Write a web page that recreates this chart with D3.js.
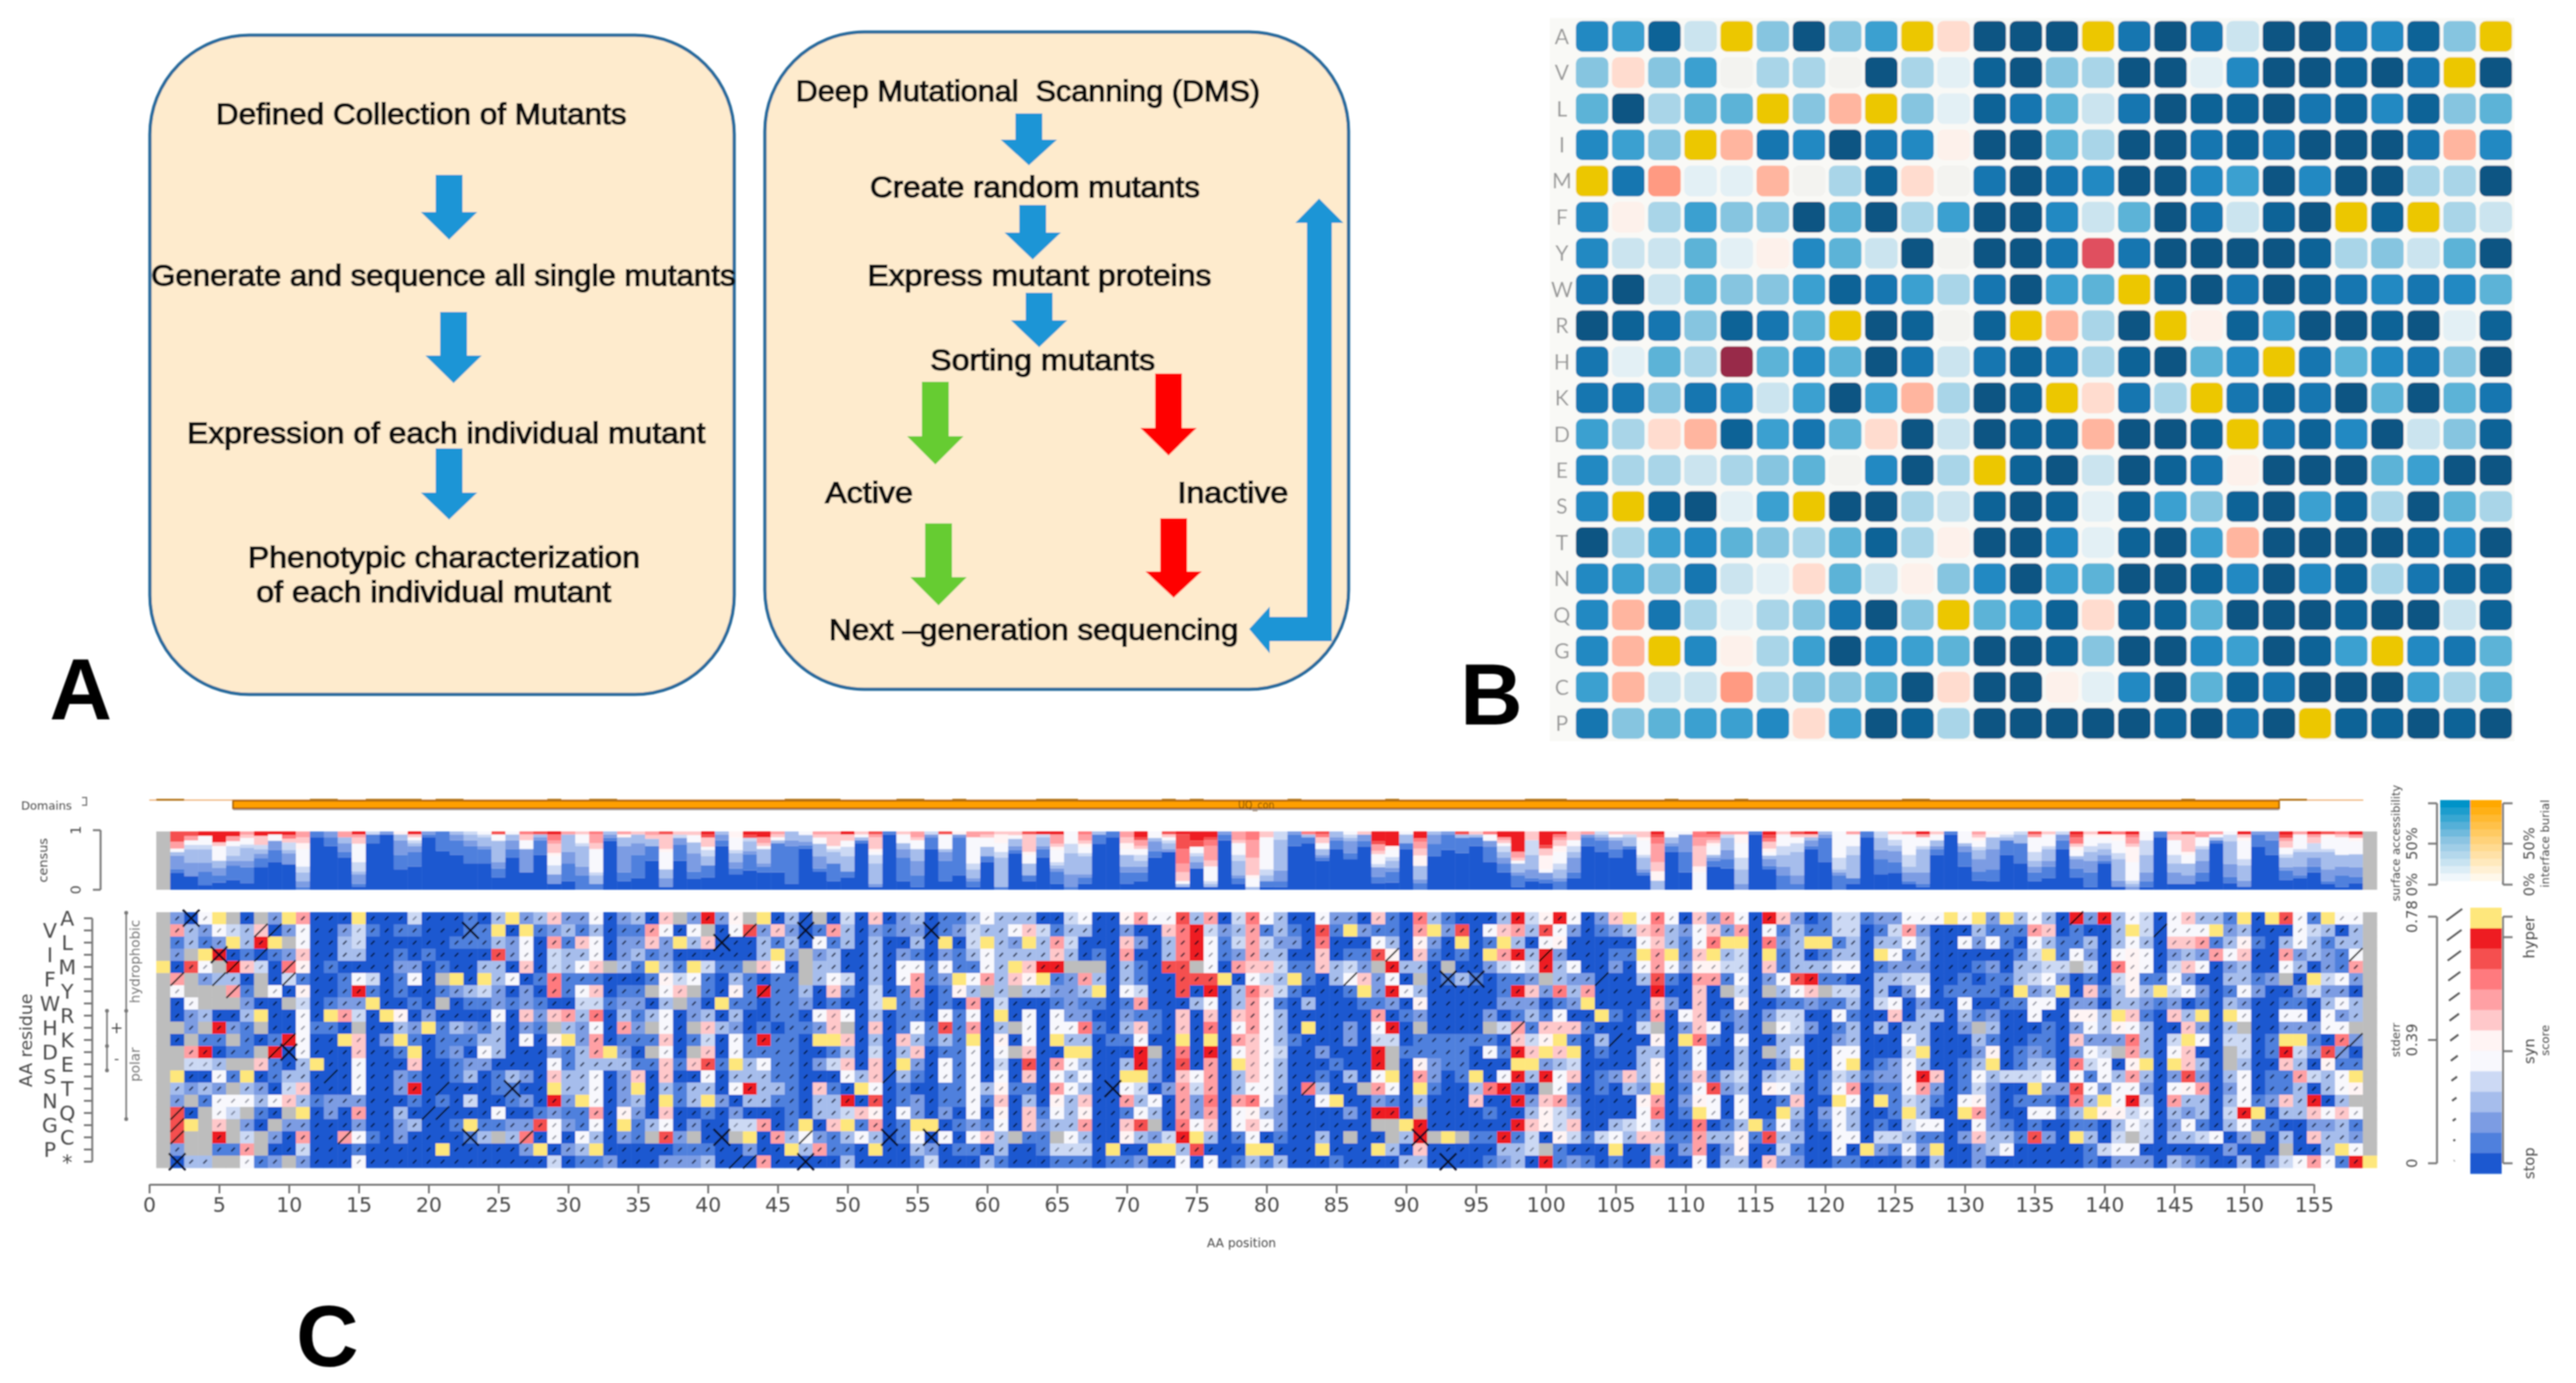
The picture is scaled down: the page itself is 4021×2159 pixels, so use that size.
<!DOCTYPE html>
<html><head><meta charset="utf-8"><title>Deep mutational scanning</title>
<script src="https://cdnjs.cloudflare.com/ajax/libs/d3/7.8.5/d3.min.js"></script>
<style>html,body{margin:0;background:#fff}svg{display:block}text{font-family:"DejaVu Sans",sans-serif}</style>
</head><body><svg id="fig" width="4021" height="2159"></svg>
<script>
// ---------- Panel A content ----------
const leftSteps = ["Defined Collection of Mutants","Generate and sequence all single mutants","Expression of each individual mutant","Phenotypic characterization","of each individual mutant"];
const rightSteps = ["Deep Mutational  Scanning (DMS)","Create random mutants","Express mutant proteins","Sorting mutants","Active","Inactive","Next \u2013generation sequencing"];
const panelLetters = ["A","B","C"];

// ---------- Panel B content ----------
const bResidues = ["A","V","L","I","M","F","Y","W","R","H","K","D","E","S","T","N","Q","G","C","P"];
const bRows = [
"6 5 8 1 y 3 9 3 5 y p 9 9 9 y 7 9 7 1 9 9 7 6 8 3 y",
"3 p 3 5 e 2 2 e 9 2 0 8 9 3 2 9 9 0 6 9 9 8 9 7 y 9",
"4 9 2 4 4 y 3 q y 3 0 8 7 4 1 7 9 8 8 9 7 8 6 8 3 4",
"6 5 3 y q 7 6 9 7 6 f 9 9 4 2 9 9 7 8 7 9 9 9 7 q 6",
"y 7 r 0 0 q e 2 8 p e 7 9 7 6 9 9 6 5 9 6 9 9 2 2 9",
"6 f 2 5 3 3 9 4 9 2 5 9 9 6 1 4 9 7 1 8 9 y 8 y 2 1",
"6 1 1 4 0 f 6 4 1 9 e 9 9 7 c 7 9 9 9 9 8 2 3 1 4 9",
"7 9 1 4 3 3 5 8 7 5 2 7 9 5 4 y 8 9 7 9 8 7 6 7 6 4",
"9 8 7 3 8 7 4 y 9 8 e 8 y q 2 9 y f 8 5 9 9 8 9 0 8",
"7 0 4 2 m 4 6 4 9 7 1 7 8 7 2 8 9 4 6 y 7 4 6 7 3 9",
"7 7 3 7 6 1 5 9 5 q 2 9 8 y p 7 2 y 7 8 7 9 4 9 4 7",
"5 2 p q 8 5 7 4 p 9 1 9 8 8 q 9 9 8 y 7 8 6 9 1 3 8",
"6 2 2 1 2 3 4 e 6 9 2 y 8 9 1 9 8 7 f 9 9 9 4 5 9 9",
"6 y 8 9 0 5 y 9 9 2 1 8 9 8 0 8 5 3 8 9 5 8 2 9 4 2",
"9 2 5 6 4 3 2 4 8 2 f 9 9 6 0 8 9 5 q 9 9 9 9 8 6 9",
"6 5 3 7 1 0 p 4 1 f 3 6 9 5 4 9 9 8 6 9 6 8 2 7 8 8",
"6 q 7 2 0 2 3 7 9 3 y 4 5 8 p 8 8 4 9 9 9 8 9 9 1 8",
"6 q y 6 f 2 5 9 6 5 4 9 9 8 3 9 9 6 5 9 8 5 y 6 7 4",
"5 q 1 1 r 2 3 3 4 9 p 9 9 f 0 6 9 4 8 7 9 9 9 5 2 4",
"7 3 4 5 5 6 p 5 9 8 2 9 9 9 9 9 8 9 7 9 y 8 8 9 8 9"];
const bLevels = ["0","1","2","3","4","5","6","7","8","9","e","f","p","q","r","y","c","m"];
const bColors = ["#e3f0f5","#cbe4ef","#a9d5e8","#86c5e0","#5cb3d7","#3aa0d0","#2089c2","#1476b0","#0e6397","#0f5583","#f3f3f0","#fdf1eb","#ffdccf","#ffb59f","#ff9a82","#ecc700","#e0505f","#982a4a"];

// ---------- Panel C content ----------
const residues = ["A","V","L","I","M","F","Y","W","R","H","K","D","E","S","T","N","Q","G","C","P","*"];
// one string per residue; columns are AA positions 1..159.
const heatRows = [
"g 2 0 5 y g 0 g 2 y 8 0 0 0 y 0 0 0 4 0 0 0 1 0 3 y 2 3 7 2 2 5 0 2 3  0 7 g 2 b 2 6 g y 0 3 0 g 0 4 0 7 0 2 3 0 1 1 3 5 3 3 3 0 0 4 5 0 0 6 8 5 5 a 3 8 0 4 9 5 3  0 0 5 2 2 0 7 1 0 9 3 1 0 0 0 3 b 4 6 b 5 0 2 7 y 5 9 5 0 7 2 8 5 0 b 7 2 0 1 4 4 1 2 2 5 5  5 y 5 y 2 y 3 5 3 0 b 2 b 3 5 4 0 5 7 3 3 1 y 0 y a 5 1 y 5 5 g",
"g 8 3 2 5 4 3 7 0 2 5 0 0 2 4 1 0 1 1 0 0 0 1 1 y 0 y 1 2 3 1 3 0 1 1  8 5 0 5 g 0 5 a 2 7 2 0 1 8 3 0 2 1 2 2 0 1 2 4 3 3 5 7 4 1 3 3 0 0 2 0 0 7 9 b 4 2 3 8 1 3  1 0 a 1 y 2 1 1 0 8 y 2 a 0 5 7 8 3 a 5 2 0 1 2 3 7 8 3 2 5 7 2 8 0 5 1 3 1 1 4 4 0 1 4 8 2  0 0 0 3 1 1 1 8 7 0 1 0 0 3 y 4 0 5 5 5 y 2 3 0 0 0 5 4 3 0 3 g",
"g 1 3 1 2 y 3 b y g 5 0 0 3 4 0 0 0 0 0 0 1 1 1 3 2 5 0 8 1 7 5 0 2 2  7 2 y 3 7 0 0 0 3 1 3 0 5 1 3 0 3 0 0 3 0 y 0 4 y 3 2 y 3 8 4 0 0 0 7 2 0 3 9 b 5 1 4 8 4 2  2 0 9 0 0 0 5 3 0 6 2 0 y 0 1 y 3 0 5 6 0 0 0 0 0 5 7 3 1 5 9 y y 0 9 2 3 y y 1 3 0 3 3 5 3  0 0 5 2 5 1 0 5 3 1 1 3 0 3 5 3 0 7 7 8 1 3 6 1 0 3 5 3 1 3 3 g",
"g 2 g y b 0 1 0 1 2 7 0 0 3 3 0 0 1 0 1 0 0 0 0 a 2 5 0 4 3 3 5 0 2 3  1 2 0 0 0 0 0 0 3 y 2 g 2 3 0 0 3 0 2 1 0 2 1 3 5 3 3 3 3 7 3 0 1 0 8 0 0 3 9 b 5 1 2 8 3 3  0 0 7 0 1 1 a 6 0 7 1 0 1 0 y 8 b 3 b 2 0 0 0 1 1 y 8 y 1 7 y 3 4 0 y 1 3 0 1 3 3 0 y 5 1 3  0 0 0 0 0 0 1 4 y 1 5 2 0 5 6 5 0 2 3 2 8 5 7 0 0 8 2 3 2 1 5 g",
"y 0 a 5 g b 7 4 0 9 6 0 1 0 0 0 0 2 2 0 1 0 0 3 3 0 7 0 4 3 5 7 g 3 1  y 3 1 y 4 1 1 g 7 5 0 g 3 3 0 0 3 0 5 5 1 5 1 1 5 3 y 7 b b g g g 0 3 1 0 a a g 5 0 8 7 7 4  1 1 7 3 4 2 g b 3 3 0 g 0 0 2 4 5 4 b 3 5 0 0 2 0 5 8 5 2 6 6 4 4 0 7 1 3 3 3 5 5 0 1 2 2 2  0 0 0 1 2 0 3 3 4 4 g 4 0 9 6 5 0 4 7 5 0 2 3 0 0 5 3 0 2 1 8 g",
"g 8 g 2 3 3 0 g 0 4 1 0 0 1 5 4 0 1 5 0 g y 0 y 3 5 0 1 9 1 1 1 0 0 0  1 6 4 5 1 0 3 1 0 1 1 g 3 5 4 0 3 0 5 8 1 2 y 5 8 3 7 6 y 1 2 8 3 0 3 1 0 0 a a a y 0 5 4 3  y 1 0 3 5 7 2 5 0 g 0 1 3 1 0 1 1 2 g 3 2 2 0 0 0 3 a 1 0 8 8 1 5 0 2 5 a b 1 1 0 0 3 3 4 4  0 0 1 0 1 1 3 4 5 2 0 1 0 4 6 1 1 5 2 0 0 3 3 1 2 g 0 y 4 5 2 g",
"g 5 g g g 8 1 g 5 0 6 0 0 1 b 1 0 1 0 0 1 2 3 4 2 0 2 0 9 1 5 7 0 1 1  g 5 7 g 1 0 6 1 b 1 1 3 0 7 1 0 4 0 1 8 0 1 6 3 g 3 g 3 3 2 2 3 y 0 5 4 0 0 a 0 b 0 3 9 7 4  1 0 0 0 1 y 2 b 5 3 0 0 0 0 0 1 b 7 2 9 3 8 0 0 0 0 b 0 0 7 0 g 4 0 g 3 5 7 g 4 4 0 3 0 2 5  0 1 1 1 1 0 y 2 3 y 0 7 1 3 6 3 y 4 5 2 0 1 5 2 0 0 2 4 2 2 0 g",
"g 0 5 g g g 2 0 0 g 4 0 1 2 2 y 0 0 1 0 g 0 1 1 2 1 2 1 0 0 4 4 1 2 2  0 3 g 2 0 y 1 1 0 1 1 2 0 1 0 0 4 y 1 2 0 1 0 8 0 4 0 0 0 1 2 1 1 0 1 8 0 0 0 3 5 0 3 8 5 1  0 3 0 0 0 1 1 2 0 6 0 0 0 0 0 2 2 2 0 1 2 y 0 0 0 0 7 2 0 7 0 0 6 0 0 1 1 2 1 1 3 0 4 5 0 2  0 0 5 0 0 1 1 5 5 0 2 2 0 3 3 2 1 2 0 1 0 3 2 0 0 1 1 0 3 5 3 g",
"g 0 2 3 0 0 3 y 0 0 5 0 y 8 4 0 y 6 0 2 0 0 0 0 5 0 7 2 7 8 3 9 0 3 1  3 5 0 2 3 0 3 0 0 1 1 0 5 7 5 0 3 0 1 1 0 5 1 5 0 y 0 5 0 5 2 2 0 0 2 1 1 0 7 0 7 0 7 8 5 3  0 0 0 0 0 0 8 0 1 2 0 0 0 0 2 0 1 3 1 5 0 0 y 1 0 1 8 0 5 7 0 1 2 0 2 4 4 0 0 5 1 0 0 7 0 3  3 0 3 1 2 0 0 5 0 0 6 6 3 y 7 1 0 7 3 y 0 y 5 0 0 5 5 0 5 2 3 g",
"g g 2 g b 2 1 g 0 0 5 1 1 0 g 0 0 3 2 y 1 3 2 1 3 0 2 1 g 3 2 5 0 8 2  g 5 0 g 7 3 2 0 1 0 1 1 2 7 g 0 7 0 1 5 1 a 1 8 0 3 g 5 0 5 5 9 1 0 3 7 1 0 7 0 9 0 5 8 5 3  0 y 0 0 2 0 5 b 0 g 0 0 0 0 g 4 8 1 7 7 7 1 0 0 0 4 g 0 2 7 5 0 2 0 g 5 4 2 0 1 3 0 3 0 3 3  0 0 2 g 3 0 0 0 1 0 2 5 3 6 5 3 0 0 7 2 0 3 g 0 0 2 2 2 5 5 g g",
"g 0 g 1 1 g 1 0 1 b 5 0 0 y 7 0 2 y 1 0 1 1 1 3 3 0 5 0 6 y 2 8 0 1 1  1 7 0 1 4 0 5 1 b 1 1 0 y y 7 0 3 0 7 3 1 3 1 y 0 6 0 5 0 y 3 3 0 1 1 5 0 0 y 0 y 0 8 7 5 3  1 0 0 0 2 0 4 4 0 1 1 1 1 1 1 0 7 4 6 y 1 0 3 0 0 0 6 0 y 9 1 0 5 0 0 3 3 0 0 2 3 0 0 0 5 3  0 0 0 3 1 0 0 1 1 0 7 2 2 2 9 3 0 4 y 5 0 4 4 0 1 y y 1 0 9 2 g",
"g g 8 b 0 1 1 g b 0 5 0 0 0 7 0 0 1 y 0 1 2 0 5 3 0 0 0 2 1 3 8 y 2 0  g 5 0 g 7 0 5 1 1 1 1 0 0 1 3 0 4 0 3 7 0 1 1 5 0 5 g 7 0 0 y y 0 0 0 b g 0 9 0 b 0 5 7 5 4  0 0 2 0 0 0 b g 1 1 1 1 1 0 5 1 b 7 y 7 y 0 1 0 0 3 3 0 1 5 0 0 3 0 g 3 5 0 0 5 5 0 0 0 4 y  0 0 0 2 6 0 1 2 1 0 2 5 4 g 8 3 0 5 7 0 0 g 4 0 1 b 4 2 a 2 0 g",
"g g 4 4 3 g g 7 1 0 3 y 0 0 5 0 0 0 7 0 0 1 2 2 0 0 0 0 5 1 3 3 3 3 1  1 7 1 7 a 1 y 3 5 1 1 0 2 4 7 0 7 0 y 2 0 5 1 5 0 4 0 a 0 8 5 3 0 0 3 b 2 0 a 0 8 0 y 7 5 3  0 0 0 1 0 0 b g 0 6 2 1 1 0 0 0 y y 2 3 4 0 0 0 0 3 6 0 1 5 0 0 3 0 0 2 y 0 0 5 y 0 1 2 5 3  0 0 1 3 y 0 1 3 3 0 9 4 5 0 6 y 0 y 7 3 0 g 3 0 0 7 3 0 6 1 1 g",
"g y 0 0 5 1 y 0 1 3 3 0 0 0 5 0 0 2 1 0 0 1 3 0 1 3 2 0 7 3 3 5 0 2 7  0 7 0 0 5 0 3 3 3 1 1 0 0 0 5 3 7 0 3 1 0 5 1 5 0 5 0 7 0 5 3 5 0 0 y y 2 0 7 5 8 0 3 7 5 3  0 0 1 0 3 0 5 y 0 8 2 0 1 y 0 5 b 3 b 5 7 0 1 2 7 3 6 0 2 7 1 3 4 0 3 4 4 0 1 4 3 1 2 2 5 b  7 0 1 5 3 4 4 4 5 0 5 1 5 3 8 3 0 2 a 2 0 3 5 0 1 1 8 4 3 5 y g",
"g 3 2 3 2 g 3 2 0 4 7 0 0 0 5 0 0 2 b 0 0 0 0 0 1 1 0 0 y 3 3 5 0 2 y  0 3 1 3 3 0 5 b 3 3 1 0 7 1 0 y 5 0 1 0 0 1 1 5 3 6 1 1 0 8 5 3 0 0 5 4 0 2 8 4 8 0 3 5 5 3  0 9 3 0 0 g 8 5 0 y 1 0 0 3 9 b 1 0 g 5 1 0 1 0 3 2 y 0 1 5 a 2 3 0 6 5 3 0 1 5 8 0 1 1 5 8  2 0 1 4 2 0 0 y 2 2 a 5 2 5 5 2 0 5 6 8 0 2 5 0 1 1 3 0 3 5 6 g",
"g 2 g 1 5 5 5 3 5 7 3 1 2 2 2 0 0 0 1 0 1 0 4 0 0 1 2 0 b 2 y 5 0 2 3  0 y 1 3 y 2 0 3 3 1 1 0 3 3 b 0 a 0 1 2 0 1 1 5 1 7 0 3 0 6 3 7 0 0 8 3 5 0 8 2 9 0 8 9 5 2  0 0 5 y 0 0 2 1 0 3 0 0 0 7 0 0 b 2 7 8 2 0 0 0 0 6 8 0 2 6 5 0 5 0 0 1 7 0 0 y 5 0 y 1 4 3  1 0 5 6 2 0 1 1 1 0 9 3 y 5 b 4 0 8 3 3 0 3 5 1 2 7 3 b 0 3 g g",
"g a 0 g 5 4 g 1 0 g y 0 2 0 8 0 0 3 0 0 0 0 0 0 5 0 0 1 2 1 1 8 0 6 2  0 7 0 0 1 0 2 0 0 0 1 0 3 3 4 7 6 0 5 2 0 2 0 5 0 6 0 7 1 5 3 6 0 0 1 5 3 0 8 2 8 0 5 6 3 2  0 0 0 0 2 0 b b 0 g 0 0 0 0 1 0 0 3 6 4 3 0 0 0 0 5 9 0 1 y 5 0 5 0 0 y 3 0 2 5 3 0 0 1 y 3  0 0 y 8 2 0 0 5 5 1 3 y 6 6 4 5 0 3 2 3 0 4 b y 0 3 3 7 5 7 5 g",
"g a y g 7 g 2 0 g 2 2 0 0 0 2 0 0 2 3 0 0 1 y 1 1 2 2 a 5 2 1 5 0 y 1  3 5 0 2 0 0 4 4 8 0 1 y 0 7 y 1 8 0 1 y y 0 1 2 1 5 0 7 2 3 3 8 0 0 7 a g 0 9 5 7 0 5 7 5 2  0 0 0 0 0 0 g g y b 0 0 0 0 0 0 b 7 6 4 7 0 0 3 4 5 3 0 0 9 0 1 3 y 1 5 2 0 1 5 3 0 1 0 4 5  5 0 0 5 2 1 0 1 0 0 1 1 0 3 5 4 0 2 5 1 0 3 5 1 1 0 0 2 2 3 1 g",
"g a g g b g 4 g 2 0 8 0 0 8 5 1 0 2 0 0 0 0 1 3 g 3 9 0 5 0 5 3 0 2 1  g a 2 g 0 0 g y 0 8 3 5 2 1 3 5 3 0 1 5 0 5 0 5 7 3 g 1 1 g 5 3 0 0 6 3 2 4 b y 3 0 1 5 0 1  0 0 3 0 g 0 0 g 3 b g y g 1 1 b 1 4 0 6 4 1 4 5 3 7 7 1 1 8 3 3 6 1 a 3 3 0 0 5 5 0 4 4 3 1  1 0 2 7 3 3 1 a 2 0 y 3 0 4 g 4 0 3 3 4 5 0 2 g 0 3 0 7 3 3 2 g",
"g 2 g g 1 1 8 g 0 0 4 0 0 0 1 0 0 0 0 0 y 0 0 0 0 0 2 y 0 2 3 y 0 0 0  0 0 1 1 1 0 0 2 0 0 y 3 8 1 1 0 y 0 0 3 2 0 1 1 0 3 0 0 1 4 4 4 0 y 0 0 y y 3 a 0 0 0 y y 0  0 0 y 0 0 0 y 3 0 7 0 0 0 0 0 3 3 4 g 1 0 0 0 y 0 0 3 0 2 8 0 2 6 0 0 4 1 0 0 5 0 y 2 1 5 2  y 0 0 2 3 5 0 0 0 0 0 1 4 5 5 0 0 0 0 0 0 2 0 0 0 g 0 0 3 y 5 g",
"g 0 3 3 g g 5 1 2 g 2 0 0 0 5 0 0 0 0 0 0 0 0 0 0 0 0 0 4 0 1 1 2 0 0  0 2 2 2 3 0 0 0 8 0 0 0 0 0 3 0 0 0 0 1 4 0 0 0 3 1 0 0 0 1 1 1 0 1 1 2 0 0 5 0 5 0 1 3 1 3  0 0 0 1 0 0 0 0 3 3 0 0 0 0 1 2 3 0 b 1 2 1 0 1 0 0 8 0 0 5 0 3 3 0 7 2 2 0 0 1 1 0 0 0 2 0  3 0 0 2 0 0 0 0 0 0 0 1 0 2 2 2 0 3 2 1 0 0 3 0 2 4 5 8 5 1 b y"];
const scoreLevels = ["0","1","2","3","4","5","6","7","8","9","a","b"];
const scoreColors = ["#1a58d0","#5080dd","#7c9ce3","#a6bdec","#ccd9f4","#f8f8fd","#fff4f4","#ffc8ca","#ffa0a4","#ff7a7e","#f55050","#ee1c20"];
const hyperColor = "#fee77c", missingColor = "#bdbdbd";
const xMarks = [[3,"A"],[23,"V"],[5,"I"],[10,"D"],[26,"T"],[23,"C"],[2,"*"],[41,"L"],[47,"V"],[56,"V"],[69,"T"],[41,"C"],[53,"C"],[56,"C"],[47,"*"],[93,"F"],[95,"F"],[91,"C"],[93,"*"]];
const longStderr = [[8,"V"],[9,"V"],[8,"I"],[6,"M"],[10,"M"],[2,"F"],[5,"F"],[10,"F"],[6,"Y"],[10,"K"],[9,"D"],[2,"Q"],[2,"G"],[2,"C"],[14,"C"],[27,"C"],[21,"T"],[13,"S"],[20,"Q"],[21,"Q"],[43,"V"],[44,"Y"],[47,"A"],[42,"*"],[43,"*"],[53,"S"],[89,"I"],[86,"F"],[104,"F"],[105,"K"],[100,"I"],[98,"H"],[83,"T"],[47,"C"],[138,"A"],[144,"V"],[158,"I"],[157,"D"],[158,"K"]];
const conservationBumps = [[1,2],[12,13],[16,19],[21,22],[29,29],[32,33],[46,49],[54,55],[58,58],[64,66],[73,73],[75,75],[82,82],[89,89],[99,101],[109,109],[114,114],[126,127],[146,146],[153,154]];
const xTicks = d3.range(0,156,5);
const stderrTicks = [0,0.39,0.78];
const stderrLevels = [0.78,0.715,0.65,0.585,0.52,0.455,0.39,0.325,0.26,0.195,0.13,0.065,0];
const accessLevels = [10,9,8,7,6,5,4,3,2,1,0];

// ---------- helpers ----------
const svg = d3.select("#fig");
const defs = svg.append("defs");
defs.append("filter").attr("id","soft")
  .attr("filterUnits","userSpaceOnUse").attr("primitiveUnits","userSpaceOnUse")
  .attr("x",0).attr("y",0).attr("width",4021).attr("height",2159)
  .append("feGaussianBlur").attr("stdDeviation",1.3);
const root = svg.append("g").attr("filter","url(#soft)");
const chars = s => s.replace(/\s+/g,"").split("");

// ---------- Panel A ----------
const A = root.append("g");
const boxes = [[234,55,912,1029],[1194,50,911,1026]];
A.selectAll("rect.box").data(boxes).join("rect").attr("class","box")
  .attr("x",d=>d[0]).attr("y",d=>d[1]).attr("width",d=>d[2]).attr("height",d=>d[3])
  .attr("rx",155).attr("ry",155).attr("fill","#feebcd").attr("stroke","#256a9c").attr("stroke-width",5);
function downArrow(cx,top,head,tip,color){
  const s=21,h=44;
  A.append("polygon").attr("fill",color)
   .attr("points",[[cx-s,top],[cx+s,top],[cx+s,head],[cx+h,head],[cx,tip],[cx-h,head],[cx-s,head]].join(" "));
}
const BLUE="#1a95d6",GREEN="#66cc33",RED="#ff0000";
[[701,273,331,374,BLUE],[708,487,555,598,BLUE],[701,700,769,811,BLUE],
 [1606,177,218,258,BLUE],[1612,320,363,405,BLUE],[1622,457,500,542,BLUE],
 [1460,596,681,725,GREEN],[1465,817,901,945,GREEN],[1824,583,668,711,RED],[1832,809,892,933,RED]]
 .forEach(a=>downArrow(...a));
A.append("polygon").attr("fill",BLUE).attr("points",
 [[2059,310],[2097,348],[2079,348],[2079,1001],[1982,1001],[1982,1020],[1950,982],[1982,947],[1982,963],[2040,963],[2040,348],[2022,348]].join(" "));
function stepText(t,x0,x1,y){
  A.append("text").text(t).attr("x",x0).attr("y",y).attr("dy","0.36em")
   .attr("textLength",x1-x0).attr("lengthAdjust","spacingAndGlyphs")
   .attr("xml:space","preserve")
   .style("font-family","'Liberation Sans',Arial,sans-serif").style("font-size","46px")
   .attr("fill","#0a0a0a").attr("stroke","#0a0a0a").attr("stroke-width",1.8);
}
const leftPos=[[337,978,177],[236,1148,429],[292,1101,675],[387,999,869],[400,954,923]];
leftSteps.forEach((t,i)=>stepText(t,...leftPos[i]));
const rightPos=[[1242,1967,141],[1358,1873,291],[1354,1891,429],[1452,1803,561],[1288,1425,768],[1838,2011,768],[1294,1933,982]];
rightSteps.forEach((t,i)=>stepText(t,...rightPos[i]));
const letterPos=[[126,1123],[2328,1131],[511,2133]];
root.selectAll("text.letter").data(panelLetters).join("text").attr("class","letter").text(d=>d)
  .attr("x",(d,i)=>letterPos[i][0]).attr("y",(d,i)=>letterPos[i][1]).attr("text-anchor","middle")
  .style("font-family","'Liberation Sans',Arial,sans-serif").style("font-weight",700).style("font-size","135px").attr("fill","#000");

// ---------- Panel B ----------
const B = root.append("g");
const bx = d3.scaleBand().domain(d3.range(26)).range([2457,3924]).paddingInner(0.1).paddingOuter(0.05);
const by = d3.scaleBand().domain(bResidues).range([30,1156]).paddingInner(0.152).paddingOuter(0.05);
const bColor = d3.scaleOrdinal(bLevels,bColors);
B.append("rect").attr("x",2419).attr("y",28).attr("width",1506).attr("height",1129).attr("fill","#f9f9f6");
bRows.forEach((row,r)=>{
  B.selectAll(null).data(chars(row)).join("rect")
   .attr("x",(d,i)=>bx(i)).attr("y",by(bResidues[r])).attr("width",bx.bandwidth()).attr("height",by.bandwidth())
   .attr("rx",10).attr("fill",d=>bColor(d));
});
B.selectAll("text.rl").data(bResidues).join("text").attr("class","rl").text(d=>d)
  .attr("x",2438).attr("y",d=>by(d)+by.bandwidth()/2).attr("dy","0.36em").attr("text-anchor","middle")
  .style("font-family","Lato,sans-serif").style("font-size","33px").attr("fill","#999");

// ---------- Panel C ----------
const C = root.append("g");
const x = d3.scaleLinear().domain([0,155]).range([233,3612]);
const cw = x(1)-x(0);
const y = d3.scaleBand().domain(residues).range([1424,1823]);
const cens = d3.scaleLinear().domain([0,1]).range([1389,1298]);
const scoreColor = d3.scaleOrdinal(scoreLevels,scoreColors);
const cellColor = c => c==="y"?hyperColor: c==="g"?missingColor: scoreColor(c);
const stderrLen = d3.scaleLinear().domain([0,0.78]).range([0.4,13]);
const matrix = heatRows.map(chars);
const positions = d3.range(1,160);

// heat cells
const cells=[];
matrix.forEach((row,r)=>row.forEach((c,i)=>cells.push({res:residues[r],pos:i+1,c})));
C.append("g").selectAll("rect").data(cells).join("rect")
  .attr("x",d=>x(d.pos)-cw/2).attr("y",d=>y(d.res)).attr("width",cw+0.5).attr("height",y.bandwidth()+0.5)
  .attr("fill",d=>cellColor(d.c));
// stderr slashes
const longKeys = new Set(longStderr.map(d=>d[0]+d[1]));
const xKeys = new Set(xMarks.map(d=>d[0]+d[1]));
C.append("g").selectAll("line").data(cells.filter(d=>d.c!=="y"&&d.c!=="g"&&!xKeys.has(d.pos+d.res))).join("line")
  .each(function(d){
    const long=longKeys.has(d.pos+d.res), h=stderrLen(long?0.62:0.15);
    const cx=x(d.pos), cy=y(d.res)+y.bandwidth()/2;
    d3.select(this).attr("x1",cx-h).attr("y1",cy+h).attr("x2",cx+h).attr("y2",cy-h)
      .attr("stroke",long?"#111":"#050a20").attr("stroke-width",long?2.6:2.4)
      .attr("stroke-opacity",long?0.95:(+d.c>=4&&+d.c<=7?0.4:0.8));
  });
C.append("g").selectAll("path").data(xMarks).join("path")
  .attr("d",d=>{const cx=x(d[0]),cy=y(d[1])+y.bandwidth()/2,h=13;return `M${cx-h},${cy-h}L${cx+h},${cy+h}M${cx-h},${cy+h}L${cx+h},${cy-h}`;})
  .attr("stroke","#0a0f20").attr("stroke-width",3.2).attr("fill","none");

// census: share of measured substitutions at each score level, per position
const census = positions.map((p,i)=>{
  const col = matrix.map(r=>r[i]).filter(c=>c!=="g"&&c!=="y");
  const total = col.length;
  const counts = scoreLevels.map(l=>col.filter(c=>c===l).length/(total||1));
  return {pos:p,total,counts};
});
const cg=C.append("g");
census.forEach(d=>{
  if(d.total<3){ cg.append("rect").attr("x",x(d.pos)-cw/2).attr("y",cens(1)).attr("width",cw+0.5).attr("height",cens(0)-cens(1)).attr("fill",missingColor); return; }
  let cum=0;
  d.counts.forEach((v,l)=>{
    if(v<=0) return;
    cg.append("rect").attr("x",x(d.pos)-cw/2).attr("width",cw+0.5)
      .attr("y",cens(cum+v)).attr("height",cens(cum)-cens(cum+v)).attr("fill",scoreColors[l]);
    cum+=v;
  });
});

// domain track
const domY=1250;
C.append("rect").attr("x",x(6)).attr("y",domY+3).attr("width",x(152.5)-x(6)).attr("height",12).attr("fill","#b0b0b0");
C.append("line").attr("x1",x(0)).attr("x2",3689).attr("y1",domY-1).attr("y2",domY-1).attr("stroke","#f0b47a").attr("stroke-width",2);
C.append("rect").attr("x",x(6)).attr("y",domY).attr("width",x(152.5)-x(6)).attr("height",12).attr("fill","#ff9f00").attr("stroke","#a85f00").attr("stroke-width",2.5);
C.append("g").selectAll("rect").data(conservationBumps).join("rect")
  .attr("x",d=>x(d[0])-cw/2).attr("width",d=>x(d[1])-x(d[0])+cw).attr("y",domY-3).attr("height",3).attr("fill","#b4741c");
C.append("text").text("UQ_con").attr("x",1961).attr("y",1257).attr("dy","0.36em").attr("text-anchor","middle").style("font-size","15px").attr("fill","#7a4a00");

const TXT="#4a4a4a", AX="#777";
function rotText(t,px,py,size,fill){
  C.append("text").text(t).attr("transform",`translate(${px},${py}) rotate(-90)`).attr("text-anchor","middle").attr("dy","0.36em")
   .style("font-size",size+"px").attr("fill",fill||TXT);
}
function bracket(px,yvals,dir,w){
  const [a,b]=d3.extent(yvals);
  C.append("line").attr("x1",px).attr("x2",px).attr("y1",a).attr("y2",b).attr("stroke",AX).attr("stroke-width",w||3);
  C.selectAll(null).data(yvals).join("line").attr("x1",px).attr("x2",px+dir).attr("y1",d=>d).attr("y2",d=>d).attr("stroke",AX).attr("stroke-width",w||3);
}

// x axis
const gx=C.append("g").attr("transform","translate(0,1849)").call(d3.axisBottom(x).tickValues(xTicks).tickSize(14).tickSizeOuter(0));
gx.select(".domain").attr("stroke",AX).attr("stroke-width",3);
gx.selectAll(".tick line").attr("stroke",AX).attr("stroke-width",3);
gx.selectAll(".tick text").attr("fill",TXT).attr("y",20).style("font-size","32px").style("font-family","'DejaVu Sans',sans-serif");
C.append("text").text("AA position").attr("x",1938).attr("y",1940).attr("dy","0.36em").attr("text-anchor","middle").style("font-size","19px").attr("fill",TXT);

// residue axis
bracket(144,residues.map(r=>y(r)+y.bandwidth()/2),-13);
C.selectAll("text.res").data(residues).join("text").attr("class","res").text(d=>d)
  .attr("x",(d,i)=>i%2?78:105).attr("y",d=>y(d)+y.bandwidth()/2).attr("dy","0.36em").attr("text-anchor","middle")
  .style("font-size","32px").attr("fill",TXT);
rotText("AA residue",40,1624,27);
// groupings
C.append("line").attr("x1",197).attr("x2",197).attr("y1",1425).attr("y2",1747).attr("stroke",AX).attr("stroke-width",2.5);
C.selectAll(null).data([1425,1578,1747]).join("circle").attr("cx",197).attr("cy",d=>d).attr("r",3).attr("fill",AX);
rotText("hydrophobic",210,1501,21,"#777");
rotText("polar",210,1662,21,"#777");
C.append("line").attr("x1",167).attr("x2",167).attr("y1",1578).attr("y2",1671).attr("stroke",AX).attr("stroke-width",2.5);
C.selectAll(null).data([1578,1633,1671]).join("circle").attr("cx",167).attr("cy",d=>d).attr("r",3).attr("fill",AX);
C.append("text").text("+").attr("x",182).attr("y",1604).attr("dy","0.36em").attr("text-anchor","middle").style("font-size","24px").attr("fill",TXT);
C.append("text").text("-").attr("x",182).attr("y",1652).attr("dy","0.36em").attr("text-anchor","middle").style("font-size","22px").attr("fill",TXT);

// census axis
bracket(157,[cens(1)-2,cens(0)],-12);
rotText("1",118,cens(1)-2,22);
rotText("0",118,cens(0),22);
rotText("census",67,1343,20);

// domains label
C.append("text").text("Domains").attr("x",33).attr("y",1258).attr("dy","0.36em").style("font-size","18px").attr("fill",TXT);
C.append("path").attr("d","M128,1245H135V1257H128").attr("fill","none").attr("stroke",AX).attr("stroke-width",2);

// accessibility legends
const acc = d3.scaleBand().domain(accessLevels).range([1249,1375]);
const accBlue = d3.scaleLinear().domain([0,5,10]).range(["#f0f7fb","#8cc4e2","#0093c8"]);
const accOrange = d3.scaleLinear().domain([0,5,10]).range(["#fff8ea","#ffd27a","#ffa800"]);
C.selectAll(null).data(accessLevels).join("rect").attr("x",3809).attr("width",48).attr("y",d=>acc(d)).attr("height",acc.bandwidth()+.5).attr("fill",d=>accBlue(d));
C.selectAll(null).data(accessLevels).join("rect").attr("x",3856).attr("width",49).attr("y",d=>acc(d)).attr("height",acc.bandwidth()+.5).attr("fill",d=>accOrange(d));
bracket(3804,[1254,1317,1381],-14);
bracket(3907,[1254,1317,1381],15);
[["0%",1381],["50%",1317]].forEach(([t,py])=>{rotText(t,3765,py,23);rotText(t,3948,py,23);});
rotText("surface accessibility",3740,1316,18);
rotText("interface burial",3973,1317,18);

// score legend
const legendLevels = scoreLevels.slice().reverse();
const scoreY = d3.scaleBand().domain(legendLevels).range([1449,1832]);
C.append("rect").attr("x",3856).attr("width",49).attr("y",1417).attr("height",32).attr("fill",hyperColor);
C.selectAll(null).data(legendLevels).join("rect").attr("x",3856).attr("width",49).attr("y",d=>scoreY(d)).attr("height",scoreY.bandwidth()+.5).attr("fill",d=>scoreColor(d));
bracket(3907,[1431,1463,1641,1816],15);
rotText("hyper",3948,1463,23);
rotText("syn",3948,1641,23);
rotText("stop",3948,1816,23);
rotText("score",3973,1624,18);

// stderr legend
const seY = d3.scaleLinear().domain([0,0.78]).range([1816,1431]);
bracket(3804,stderrTicks.map(seY),-14);
stderrTicks.forEach(v=>rotText(String(v),3765,seY(v),23));
rotText("stderr",3740,seY(0.39),18);
C.selectAll(null).data(stderrLevels).join("line")
  .attr("x1",d=>3831-stderrLen(d)*0.95).attr("x2",d=>3831+stderrLen(d)*0.95)
  .attr("y1",(d,i)=>1428+i*32+stderrLen(d)*0.7).attr("y2",(d,i)=>1428+i*32-stderrLen(d)*0.7)
  .attr("stroke","#555").attr("stroke-width",3);
</script></body></html>
